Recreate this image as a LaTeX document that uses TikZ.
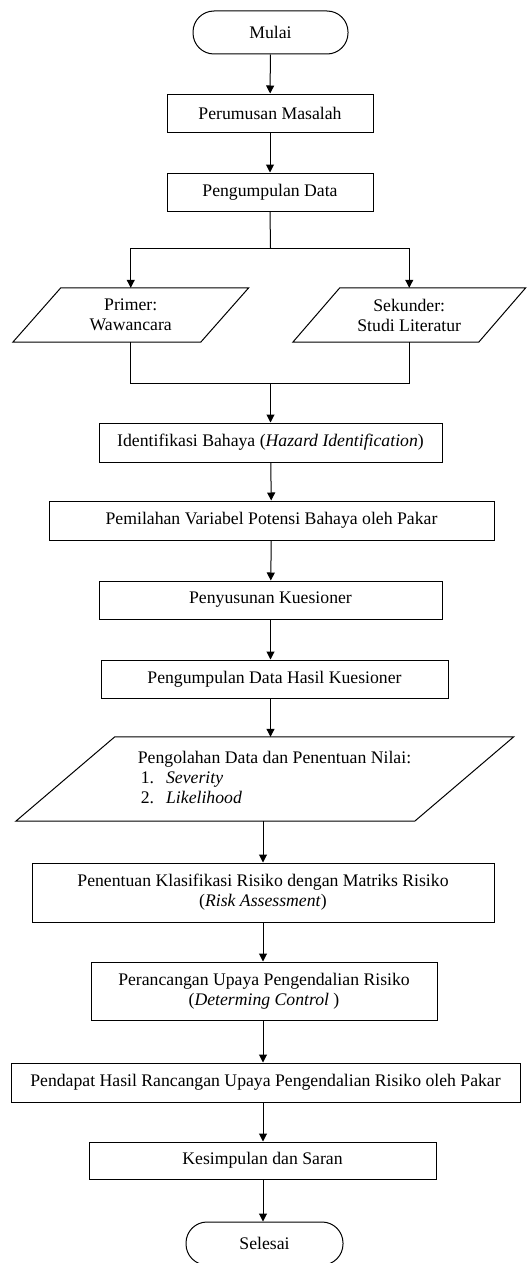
\documentclass[tikz,border=0pt]{standalone}
\usepackage{fontspec}
\setmainfont{Liberation Serif}
\usetikzlibrary{arrows.meta}

\tikzset{
  teks/.style={font=\fontsize{17.7}{20}\selectfont},
  proses/.style={teks, draw, rectangle, line width=1pt, inner sep=2pt, align=center},
  terminal/.style={teks, draw, rectangle, rounded corners=21pt, line width=1pt, minimum width=155, minimum height=43},
  jajar/.style={teks, rectangle, inner sep=0pt, align=center},
  panah/.style={line width=1pt, -{Triangle[width=8pt,length=8pt]}},
  garis/.style={line width=1pt}
}

\begin{document}
\begin{tikzpicture}[x=1pt, y=-1pt]
      \useasboundingbox (0,0) rectangle (531,1263);
      \node[terminal] (mulai) at (270.5, 32.5) {Mulai};
      \node[proses, minimum width=206, minimum height=38] (rumus) at (270, 113) {Perumusan Masalah};
      \node[proses, minimum width=206, minimum height=38] (kumpul) at (270, 192) {Pengumpulan Data};
      \node[jajar, minimum width=187.5, minimum height=54] (primer) at (130.75, 315) {Primer:\\Wawancara};
      \node[jajar, minimum width=185.5, minimum height=54] (sekunder) at (409.25, 315) {Sekunder:\\Studi Literatur};
      \node[proses, minimum width=343, minimum height=39] (identif) at (270.5, 442.5) {Identifikasi Bahaya (\textit{Hazard Identification})};
      \node[proses, minimum width=445, minimum height=39] (pilah) at (271.5, 520.5) {Pemilahan Variabel Potensi Bahaya oleh Pakar};
      \node[proses, minimum width=343, minimum height=38] (susun) at (270.5, 600) {Penyusunan Kuesioner};
      \node[proses, minimum width=347, minimum height=38] (hasil) at (274.5, 679) {Pengumpulan Data Hasil Kuesioner};
      \node[jajar, minimum width=398.5, minimum height=84] (olah) at (264.75, 779) {};
      \node[teks, align=left, anchor=center] (olahteks) at (274.5, 777.5) {Pengolahan Data dan Penentuan Nilai:\\
        \hspace*{3pt}1.\hspace{12pt}\textit{Severity}\\
        \hspace*{3pt}2.\hspace{12pt}\textit{Likelihood}};
      \node[proses, minimum width=462, minimum height=59] (klasif) at (263, 892.5) {Penentuan Klasifikasi Risiko dengan Matriks Risiko\\(\textit{Risk Assessment})};
      \node[proses, minimum width=346, minimum height=58] (rancang) at (264, 991) {Perancangan Upaya Pengendalian Risiko\\(\textit{Determing Control} )};
      \node[proses, minimum width=509, minimum height=39] (pendapat) at (265.5, 1082.5) {Pendapat Hasil Rancangan Upaya Pengendalian Risiko oleh Pakar};
      \node[proses, minimum width=347, minimum height=37] (simpul) at (262.5, 1160.5) {Kesimpulan dan Saran};
      \node[terminal, minimum width=157] (selesai) at (264.5, 1243.5) {Selesai};
      % bentuk jajaran genjang (input/output)
      \draw[garis] ([xshift=24]primer.north west) -- ([xshift=24]primer.north east)
        -- ([xshift=-24]primer.south east) -- ([xshift=-24]primer.south west) -- cycle;
      \draw[garis] ([xshift=23.5]sekunder.north west) -- ([xshift=23.5]sekunder.north east)
        -- ([xshift=-23.5]sekunder.south east) -- ([xshift=-23.5]sekunder.south west) -- cycle;
      \draw[garis] ([xshift=49.5]olah.north west) -- ([xshift=49.5]olah.north east)
        -- ([xshift=-49.5]olah.south east) -- ([xshift=-49.5]olah.south west) -- cycle;
      % percabangan data
      \coordinate (cabang) at (270.5, 248);
      \coordinate (gabung) at (270.5, 383);
      \draw[panah] (mulai) -- (rumus);
      \draw[panah] (rumus) -- (kumpul);
      \draw[garis] (kumpul.south) -- (cabang);
      \draw[panah] (cabang) -| (primer.north);
      \draw[panah] (cabang) -| (sekunder.north);
      \draw[garis] (primer.south) |- (gabung);
      \draw[garis] (sekunder.south) |- (gabung);
      \draw[panah] (gabung) -- (identif.north);
      \draw[panah] (identif) -- (pilah);
      \draw[panah] (pilah) -- (susun);
      \draw[panah] (susun.south) -- (susun.south |- hasil.north);
      \draw[panah] (susun.south |- hasil.south) -- (susun.south |- olah.north);
      \draw[panah] (olah.south -| klasif.north) -- (klasif.north);
      \draw[panah] (klasif.south) -- (klasif.south |- rancang.north);
      \draw[panah] (klasif.south |- rancang.south) -- (klasif.south |- pendapat.north);
      \draw[panah] (klasif.south |- pendapat.south) -- (klasif.south |- simpul.north);
      \draw[panah] (klasif.south |- simpul.south) -- (klasif.south |- selesai.north);
    \end{tikzpicture}
\end{document}
